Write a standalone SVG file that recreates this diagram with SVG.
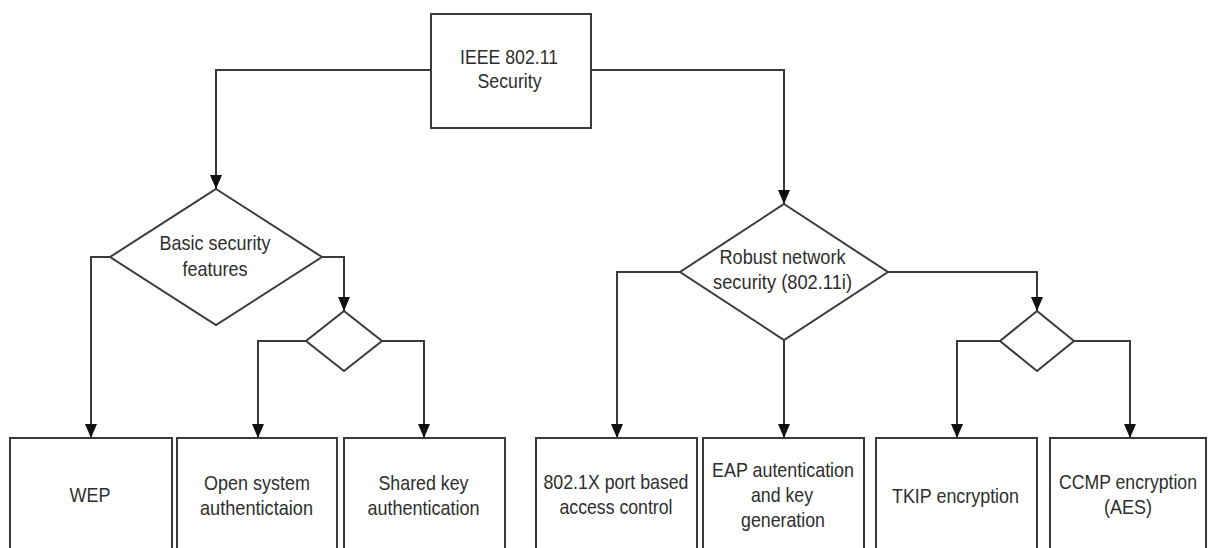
<svg xmlns="http://www.w3.org/2000/svg" width="1208" height="548" viewBox="0 0 1208 548">
  <style>
    .shape { fill: #ffffff; stroke: #3a3a3a; stroke-width: 2; }
    .link { fill: none; stroke: #3a3a3a; stroke-width: 2; marker-end: url(#arrow); }
    text { font-family: "Liberation Sans Narrow", "Liberation Sans", Arial, sans-serif; font-size: 21px; fill: #2e2e2e; text-anchor: middle; }
  </style>
  <defs>
    <marker id="arrow" markerUnits="userSpaceOnUse" viewBox="0 0 14 12" markerWidth="14" markerHeight="12" refX="14" refY="6" orient="auto">
      <path d="M0,0 L14,6 L0,12 z" fill="#111111"/>
    </marker>
  </defs>
  <rect width="1208" height="548" fill="#ffffff"/>

  <!-- connectors -->
  <g id="connectors">
    <path class="link" d="M431,70 H216 V189"/>
    <path class="link" d="M591,70 H784 V204"/>
    <path class="link" d="M110,257 H91 V438"/>
    <path class="link" d="M322,257 H344 V311"/>
    <path class="link" d="M306,341 H258 V438"/>
    <path class="link" d="M382,341 H424 V438"/>
    <path class="link" d="M680,272 H617 V438"/>
    <path class="link" d="M784,340 V438"/>
    <path class="link" d="M888,272 H1037 V311"/>
    <path class="link" d="M1000,341 H957 V438"/>
    <path class="link" d="M1074,341 H1130 V438"/>
  </g>

  <!-- root -->
  <g id="ieee-security">
    <rect class="shape" x="431" y="14" width="160" height="114"/>
    <text x="509" y="64" textLength="98" lengthAdjust="spacingAndGlyphs">IEEE 802.11</text>
    <text x="509.5" y="88" textLength="64" lengthAdjust="spacingAndGlyphs">Security</text>
  </g>

  <!-- basic security branch -->
  <g id="basic-security">
    <polygon class="shape" points="216,189 322,257 216,325 110,257"/>
    <text x="215" y="250" textLength="111" lengthAdjust="spacingAndGlyphs">Basic security</text>
    <text x="215" y="275.5" textLength="65" lengthAdjust="spacingAndGlyphs">features</text>
  </g>
  <g id="basic-auth-choice">
    <polygon class="shape" points="344,311 382,341 344,371 306,341"/>
  </g>
  <g id="wep">
    <rect class="shape" x="10" y="438" width="162" height="130"/>
    <text x="90" y="501.5" textLength="41" lengthAdjust="spacingAndGlyphs">WEP</text>
  </g>
  <g id="open-system">
    <rect class="shape" x="177" y="438" width="160" height="130"/>
    <text x="257" y="489.5" textLength="106" lengthAdjust="spacingAndGlyphs">Open system</text>
    <text x="256.5" y="514.5" textLength="113" lengthAdjust="spacingAndGlyphs">authentictaion</text>
  </g>
  <g id="shared-key">
    <rect class="shape" x="344" y="438" width="161" height="130"/>
    <text x="423.5" y="490" textLength="90" lengthAdjust="spacingAndGlyphs">Shared key</text>
    <text x="423.5" y="515" textLength="112" lengthAdjust="spacingAndGlyphs">authentication</text>
  </g>

  <!-- robust network security branch -->
  <g id="robust-security">
    <polygon class="shape" points="784,204 888,272 784,340 680,272"/>
    <text x="782.5" y="264" textLength="126" lengthAdjust="spacingAndGlyphs">Robust network</text>
    <text x="782.5" y="289" textLength="139" lengthAdjust="spacingAndGlyphs">security (802.11i)</text>
  </g>
  <g id="encryption-choice">
    <polygon class="shape" points="1037,311 1074,341 1037,371 1000,341"/>
  </g>
  <g id="port-access">
    <rect class="shape" x="536" y="438" width="161" height="130"/>
    <text x="616" y="488.5" textLength="145" lengthAdjust="spacingAndGlyphs">802.1X port based</text>
    <text x="616" y="514" textLength="113" lengthAdjust="spacingAndGlyphs">access control</text>
  </g>
  <g id="eap">
    <rect class="shape" x="703" y="438" width="161" height="130"/>
    <text x="783" y="476.5" textLength="142" lengthAdjust="spacingAndGlyphs">EAP autentication</text>
    <text x="782" y="501.5" textLength="62" lengthAdjust="spacingAndGlyphs">and key</text>
    <text x="783" y="526.5" textLength="84" lengthAdjust="spacingAndGlyphs">generation</text>
  </g>
  <g id="tkip">
    <rect class="shape" x="876" y="438" width="161" height="130"/>
    <text x="955.5" y="502.5" textLength="127" lengthAdjust="spacingAndGlyphs">TKIP encryption</text>
  </g>
  <g id="ccmp">
    <rect class="shape" x="1050" y="438" width="156" height="130"/>
    <text x="1128" y="488.5" textLength="138" lengthAdjust="spacingAndGlyphs">CCMP encryption</text>
    <text x="1128" y="513.5" textLength="48" lengthAdjust="spacingAndGlyphs">(AES)</text>
  </g>
</svg>
